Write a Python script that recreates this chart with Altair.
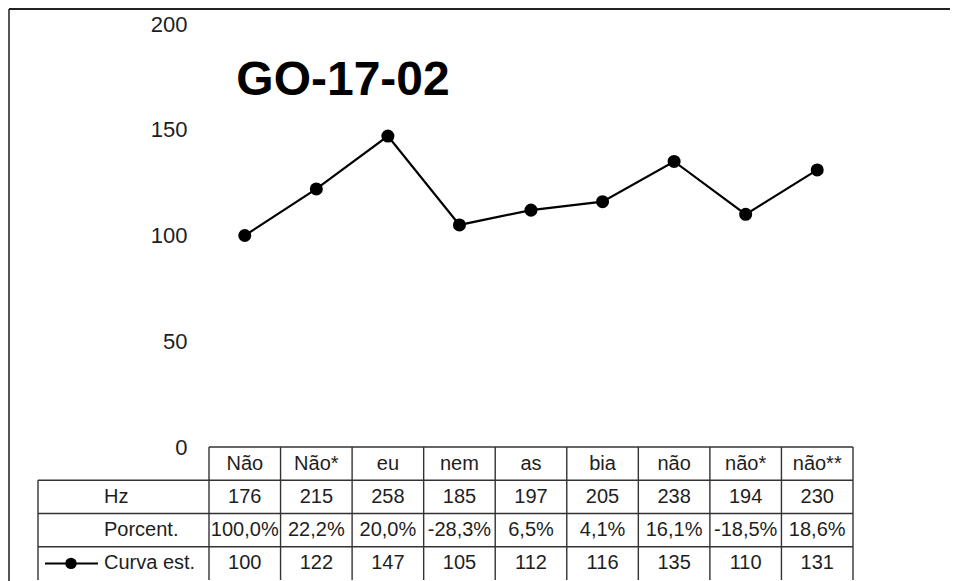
import altair as alt
import pandas as pd

# ---- data ----
categories = ["Não", "Não*", "eu", "nem", "as", "bia", "não", "não*", "não**"]
hz_values = [176, 215, 258, 185, 197, 205, 238, 194, 230]
porcent_values = [100.0, 22.2, 20.0, -28.3, 6.5, 4.1, 16.1, -18.5, 18.6]
curva_values = [100, 122, 147, 105, 112, 116, 135, 110, 131]
row_labels = ["Hz", "Porcent.", "Curva est."]
y_ticks = [0, 50, 100, 150, 200]
title_text = "GO-17-02"

# ---- layout ----
FONT = "Liberation Sans"
W, H = 644, 423
PAD = {"left": 201, "top": 16, "right": 97, "bottom": 134}
ROW_H = 33.25
N_ROWS = 4
TXT = "#1e1e1e"
GRID = "#333333"

xs = alt.Scale(type="band", domain=categories, paddingInner=0, paddingOuter=0)
ts = alt.Scale(domain=[0, N_ROWS], range=[H, H + N_ROWS * ROW_H], nice=False, zero=False)

one = pd.DataFrame({"a": [0]})

# frame (left and top border)
frame_left = alt.Chart(one).mark_rule(color="#555", strokeWidth=2).encode(
    x=alt.value(-200), y=alt.value(-15), y2=alt.value(H + PAD["bottom"]))
frame_top = alt.Chart(one).mark_rule(color="#222", strokeWidth=2).encode(
    x=alt.value(-200), x2=alt.value(W + PAD["right"]), y=alt.value(-15))

# title
title = alt.Chart(pd.DataFrame({"t": [title_text]})).mark_text(
    font=FONT, fontSize=48, fontWeight="bold", align="center",
    baseline="alphabetic", color="black").encode(
    x=alt.value(134), y=alt.value(71), text="t:N")

# line with points
line_df = pd.DataFrame({"cat": categories, "curva": curva_values,
                        "idx": list(range(len(categories)))})
line = alt.Chart(line_df).mark_line(
    color="black", strokeWidth=2.2,
    point=alt.OverlayMarkDef(filled=True, color="black", size=170, opacity=1)).encode(
    x=alt.X("cat:N", scale=xs, axis=None, bandPosition=0.5),
    y=alt.Y("curva:Q", scale=alt.Scale(domain=[0, 200], nice=False),
            axis=alt.Axis(values=y_ticks, grid=False, domain=False, ticks=False,
                          labelPadding=22, labelFontSize=22, labelFont=FONT,
                          labelColor=TXT, title=None)),
    order=alt.Order("idx:Q"))

# table cells
cells = []
for i, c in enumerate(categories):
    pct = f"{porcent_values[i]:.1f}%".replace(".", ",")
    for r, t in enumerate([c, str(hz_values[i]), pct, str(curva_values[i])]):
        cells.append({"cat": c, "ymid": r + 0.5, "text": t})
cells_df = pd.DataFrame(cells)
cell_text = alt.Chart(cells_df).mark_text(
    font=FONT, fontSize=20, color=TXT, align="center", baseline="middle").encode(
    x=alt.X("cat:N", scale=xs, axis=None, bandPosition=0.5),
    y=alt.Y("ymid:Q", scale=ts, axis=None),
    text="text:N")

# row labels
rl_df = pd.DataFrame({"label": row_labels, "ymid": [1.5, 2.5, 3.5]})
row_text = alt.Chart(rl_df).mark_text(
    font=FONT, fontSize=20, color=TXT, align="left", baseline="middle").encode(
    x=alt.value(-105), y=alt.Y("ymid:Q", scale=ts, axis=None), text="label:N")

# legend symbol in "Curva est." row
leg_df = pd.DataFrame({"label": [row_labels[-1]], "ymid": [3.5]})
leg_line = alt.Chart(leg_df).mark_rule(color="black", strokeWidth=2).encode(
    x=alt.value(-164), x2=alt.value(-111), y=alt.Y("ymid:Q", scale=ts, axis=None))
leg_pt = alt.Chart(leg_df).mark_point(filled=True, color="black", size=130, opacity=1).encode(
    x=alt.value(-138), y=alt.Y("ymid:Q", scale=ts, axis=None))

# grid lines
head_top = alt.Chart(pd.DataFrame({"y": [0]})).mark_rule(color=GRID, strokeWidth=1.4).encode(
    x=alt.value(0), x2=alt.value(W), y=alt.Y("y:Q", scale=ts, axis=None))
row_lines = alt.Chart(pd.DataFrame({"y": [1, 2, 3]})).mark_rule(color=GRID, strokeWidth=1.4).encode(
    x=alt.value(-171), x2=alt.value(W), y=alt.Y("y:Q", scale=ts, axis=None))
vdf = pd.DataFrame({"cat": categories, "y0": 0, "y1": N_ROWS})
vlines = alt.Chart(vdf).mark_rule(color=GRID, strokeWidth=1.4).encode(
    x=alt.X("cat:N", scale=xs, axis=None, bandPosition=0),
    y=alt.Y("y0:Q", scale=ts, axis=None), y2="y1:Q")
vlast = alt.Chart(vdf.tail(1)).mark_rule(color=GRID, strokeWidth=1.4).encode(
    x=alt.X("cat:N", scale=xs, axis=None, bandPosition=1),
    y=alt.Y("y0:Q", scale=ts, axis=None), y2="y1:Q")
vleft = alt.Chart(pd.DataFrame({"y0": [1], "y1": [N_ROWS]})).mark_rule(color=GRID, strokeWidth=1.4).encode(
    x=alt.value(-171), y=alt.Y("y0:Q", scale=ts, axis=None), y2="y1:Q")

chart = alt.layer(
    frame_left, frame_top, title, head_top, row_lines, vlines, vlast, vleft,
    cell_text, row_text, leg_line, leg_pt, line
).resolve_scale(y="independent").properties(
    width=W, height=H, padding=PAD,
    autosize=alt.AutoSizeParams(type="none"),
    background="white"
).configure_view(stroke=None)

chart.save("out.html", embed_options={"renderer": "svg", "actions": False})
